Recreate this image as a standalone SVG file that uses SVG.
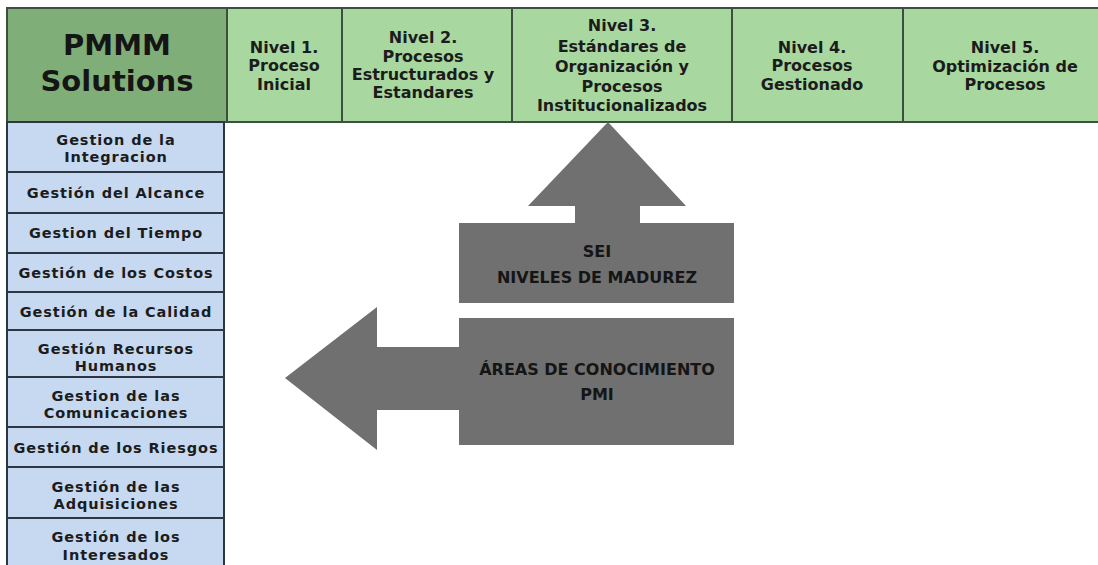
<svg xmlns="http://www.w3.org/2000/svg" width="1098" height="565" viewBox="0 0 1098 565">
<style>
.hdr{fill:#a8d8a0;stroke:#3f4f3f;stroke-width:2}
.main{fill:#7fae78;stroke:#3f4f3f;stroke-width:2}
.area{fill:#c6d9f0;stroke:#2d3642;stroke-width:2}
.t{font-family:"DejaVu Sans",sans-serif;font-weight:bold;fill:#1c1c1c;text-anchor:middle}
.h{font-size:16px}
.a{font-size:14.5px;letter-spacing:0.9px}
.big{font-family:"DejaVu Sans",sans-serif;font-weight:bold;fill:#151515;text-anchor:middle;font-size:29px}
.arr{fill:#707070}
.at{font-family:"DejaVu Sans",sans-serif;font-weight:bold;fill:#151515;text-anchor:middle;font-size:16px}
</style>
<rect width="1098" height="565" fill="#ffffff"/>
<g id="pmmm">
<rect class="main" x="7" y="8" width="220" height="114"/>
<text class="big" x="117" y="55">PMMM</text>
<text class="big" x="117" y="91">Solutions</text>
</g>
<g id="nivel1">
<rect class="hdr" x="227" y="8" width="115" height="114"/>
<text class="t h" x="284" y="53">Nivel 1.</text>
<text class="t h" x="284" y="71">Proceso</text>
<text class="t h" x="284" y="90">Inicial</text>
</g>
<g id="nivel2">
<rect class="hdr" x="342" y="8" width="170" height="114"/>
<text class="t h" x="423" y="43">Nivel 2.</text>
<text class="t h" x="423" y="62">Procesos</text>
<text class="t h" x="423" y="80">Estructurados y</text>
<text class="t h" x="423" y="98">Estandares</text>
</g>
<g id="nivel3">
<rect class="hdr" x="512" y="8" width="220" height="114"/>
<text class="t h" x="622" y="31">Nivel 3.</text>
<text class="t h" x="622" y="52">Estándares de</text>
<text class="t h" x="622" y="72">Organización y</text>
<text class="t h" x="622" y="92">Procesos</text>
<text class="t h" x="622" y="111">Institucionalizados</text>
</g>
<g id="nivel4">
<rect class="hdr" x="732" y="8" width="171" height="114"/>
<text class="t h" x="812" y="53">Nivel 4.</text>
<text class="t h" x="812" y="71">Procesos</text>
<text class="t h" x="812" y="90">Gestionado</text>
</g>
<g id="nivel5">
<rect class="hdr" x="903" y="8" width="196" height="114"/>
<text class="t h" x="1005" y="53">Nivel 5.</text>
<text class="t h" x="1005" y="72">Optimización de</text>
<text class="t h" x="1005" y="90">Procesos</text>
</g>
<g id="area1">
<rect class="area" x="7" y="122" width="217" height="50"/>
<text class="t a" x="116" y="145">Gestion de la</text>
<text class="t a" x="116" y="162">Integracion</text>
</g>
<g id="area2">
<rect class="area" x="7" y="172" width="217" height="41"/>
<text class="t a" x="116" y="198">Gestión del Alcance</text>
</g>
<g id="area3">
<rect class="area" x="7" y="213" width="217" height="40"/>
<text class="t a" x="116" y="238">Gestion del Tiempo</text>
</g>
<g id="area4">
<rect class="area" x="7" y="253" width="217" height="39"/>
<text class="t a" x="116" y="278">Gestión de los Costos</text>
</g>
<g id="area5">
<rect class="area" x="7" y="292" width="217" height="38"/>
<text class="t a" x="116" y="317">Gestión de la Calidad</text>
</g>
<g id="area6">
<rect class="area" x="7" y="330" width="217" height="47"/>
<text class="t a" x="116" y="354">Gestión Recursos</text>
<text class="t a" x="116" y="371">Humanos</text>
</g>
<g id="area7">
<rect class="area" x="7" y="377" width="217" height="50"/>
<text class="t a" x="116" y="401">Gestion de las</text>
<text class="t a" x="116" y="418">Comunicaciones</text>
</g>
<g id="area8">
<rect class="area" x="7" y="427" width="217" height="40"/>
<text class="t a" x="116" y="453">Gestión de los Riesgos</text>
</g>
<g id="area9">
<rect class="area" x="7" y="467" width="217" height="51"/>
<text class="t a" x="116" y="492">Gestión de las</text>
<text class="t a" x="116" y="509">Adquisiciones</text>
</g>
<g id="area10">
<rect class="area" x="7" y="518" width="217" height="50"/>
<text class="t a" x="116" y="542">Gestión de los</text>
<text class="t a" x="116" y="560">Interesados</text>
</g>
<g id="sei">
<polygon class="arr" points="459,223 575,223 575,206 528,206 608,122 686,206 640,206 640,223 734,223 734,303 459,303"/>
<text class="at" x="597" y="257">SEI</text>
<text class="at" x="597" y="283">NIVELES DE MADUREZ</text>
</g>
<g id="pmi">
<polygon class="arr" points="459,318 734,318 734,445 459,445 459,410 377,410 377,450 285,378 377,307 377,347 459,347"/>
<text class="at" x="597" y="375">ÁREAS DE CONOCIMIENTO</text>
<text class="at" x="597" y="400">PMI</text>
</g>
<g id="connectors"></g>
</svg>
